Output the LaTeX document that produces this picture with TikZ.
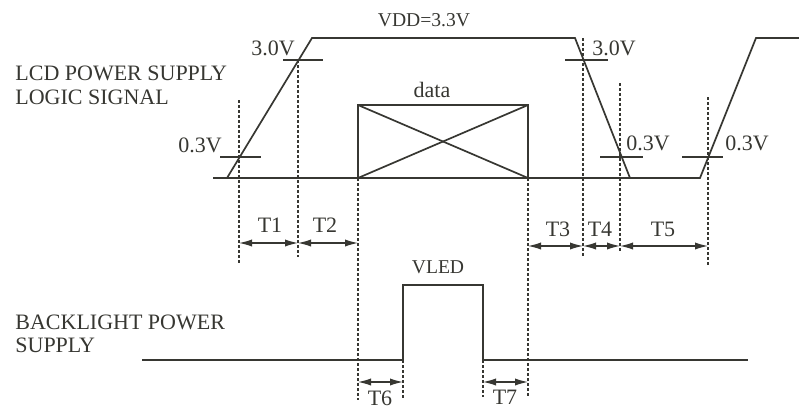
\documentclass[tikz,border=0pt]{standalone}
\usepackage{fontspec}
\setmainfont{Liberation Serif}
\usetikzlibrary{arrows.meta}
\definecolor{ink}{RGB}{55,55,50}
\begin{document}
\begin{tikzpicture}[x=0.5pt,y=-0.5pt,
  wave/.style={draw=ink,line width=0.85pt,line join=miter},
  guide/.style={draw=ink,line width=0.55pt,dash pattern=on 1.5pt off 1pt},
  tick/.style={draw=ink,line width=0.85pt},
  span/.style={draw=ink,line width=0.6pt,{Latex[length=6.5pt,width=3.6pt]}-{Latex[length=6.5pt,width=3.6pt]}},
  lbl/.style={text=ink,inner sep=0pt,font=\fontsize{11}{13}\selectfont},
  slbl/.style={text=ink,inner sep=0pt,font=\fontsize{9.8}{12}\selectfont}]
\useasboundingbox (0,0) rectangle (799,408);
% top waveform
\draw[wave] (213,178) -- (227,178) -- (312,38) -- (575,38) -- (630,178) -- (700,178) -- (756,38) -- (799,38);
\draw[wave] (213,178) -- (630,178);
% data box
\draw[wave] (358,105) rectangle (528,178);
\draw[wave] (358,105) -- (528,178);
\draw[wave] (358,178) -- (528,105);
% ticks
\draw[tick] (283,60) -- (323,60);
\draw[tick] (220,157) -- (261,157);
\draw[tick] (565,60) -- (608,60);
\draw[tick] (600,157) -- (643,157);
\draw[tick] (682,157) -- (723,157);
% guides
\draw[guide] (239,100) -- (239,263);
\draw[guide] (298,60) -- (298,257);
\draw[guide] (358,178) -- (358,400);
\draw[guide] (528,178) -- (528,397);
\draw[guide] (583,38) -- (583,257);
\draw[guide] (620,83) -- (620,252);
\draw[guide] (708,97) -- (708,267);
\draw[guide] (403,360) -- (403,400);
\draw[guide] (483,360) -- (483,397);
% backlight
\draw[wave] (142,360) -- (403,360) -- (403,285) -- (483,285) -- (483,360) -- (748,360);
% span coordinates
\coordinate (a1) at (239,243); \coordinate (a2) at (298,243); \coordinate (a3) at (358,243);
\coordinate (b1) at (528,246); \coordinate (b2) at (583,246); \coordinate (b3) at (620,246); \coordinate (b4) at (708,246);
\coordinate (c1) at (358,382); \coordinate (c2) at (403,382);
\coordinate (d1) at (483,382); \coordinate (d2) at (528,382);
\draw[span] (a1) -- (a2);
\draw[span] (a2) -- (a3);
\draw[span] (b1) -- (b2);
\draw[span] (b2) -- (b3);
\draw[span] (b3) -- (b4);
\draw[span] (c1) -- (c2);
\draw[span] (d1) -- (d2);
% labels
\node[lbl] (t1) at (270,225) {T1};
\node[lbl] (t2) at (325,225) {T2};
\node[lbl] (t3) at (558,229) {T3};
\node[lbl] (t4) at (600,229) {T4};
\node[lbl] (t5) at (663,229) {T5};
\node[lbl] (t6) at (380,398) {T6};
\node[lbl] (t7) at (505,397) {T7};
\node[lbl,anchor=west] (l1) at (15,73) {LCD POWER SUPPLY};
\node[lbl,anchor=west] (l2) at (15,97) {LOGIC SIGNAL};
\node[lbl,anchor=west] (l3) at (15,322) {BACKLIGHT POWER};
\node[lbl,anchor=west] (l4) at (15,345) {SUPPLY};
\node[slbl] (vdd) at (424,20) {VDD=3.3V};
\node[lbl] (v30a) at (273,48) {3.0V};
\node[lbl] (v03a) at (200,145) {0.3V};
\node[lbl] (v30b) at (614,48) {3.0V};
\node[lbl] (v03b) at (648,143) {0.3V};
\node[lbl] (v03c) at (747,143) {0.3V};
\node[lbl] (data) at (432,90) {data};
\node[slbl] (vled) at (438,267) {VLED};
\end{tikzpicture}
\end{document}
